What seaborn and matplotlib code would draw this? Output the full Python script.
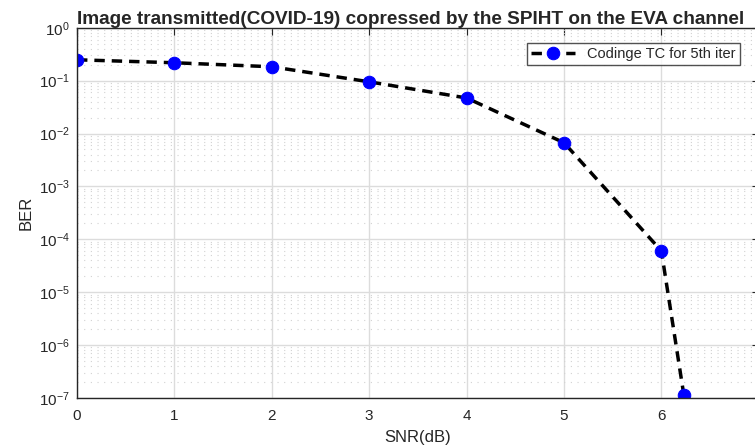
import numpy as np
import pandas as pd
import matplotlib
matplotlib.use("Agg")
import matplotlib.pyplot as plt
import seaborn as sns

# values
snr = [0, 1, 2, 3, 4, 5, 6, 6.23]
ber = [0.248, 0.218, 0.183, 0.095, 0.047, 0.0067, 6.0e-5, 1.15e-7]
label = "Codinge TC for 5th iter"

sns.set_style("white")
plt.rcParams['font.family'] = ['Liberation Sans', 'DejaVu Sans']
plt.rcParams['mathtext.fontset'] = 'custom'
plt.rcParams['mathtext.rm'] = 'Liberation Sans'

df = pd.DataFrame({"SNR": snr, "BER": ber})

fig = plt.figure(figsize=(7.55, 4.48), dpi=100)
ax = fig.add_axes([0.102, 0.112, 0.903, 0.826])

sns.lineplot(data=df, x="SNR", y="BER", ax=ax, color="black",
             linewidth=2.5, marker="o", markersize=9, markerfacecolor="blue",
             markeredgecolor="blue", label=label)
ax.lines[0].set_linestyle((0, (3, 2)))

ax.set_yscale("log")
ax.set_xlim(0, 7)
ax.set_ylim(1e-7, 1)
ax.set_xticks(range(0, 8))
ax.set_yticks([10.0 ** k for k in range(-7, 1)])
ax.yaxis.set_minor_locator(matplotlib.ticker.LogLocator(base=10, subs=np.arange(2, 10), numticks=20))
ax.yaxis.set_minor_formatter(matplotlib.ticker.NullFormatter())

ax.grid(True, which="major", color="#dcdcdc", linewidth=1, linestyle="-")
ax.grid(True, which="minor", axis="y", color="#d2d2d2", linewidth=0.8, linestyle=(0, (1, 5)))
ax.tick_params(which="both", direction="in", top=True, right=True, colors="#262626")
ax.tick_params(which="major", length=5, labelsize=11)
ax.tick_params(axis="x", which="major", pad=8)
ax.tick_params(axis="y", which="major", pad=5)
ax.tick_params(which="minor", length=3)
for s in ax.spines.values():
    s.set_color("#262626")
    s.set_linewidth(1)

ax.set_xlabel("SNR(dB)", fontsize=12, color="#262626", labelpad=5)
ax.set_ylabel("BER", fontsize=12, color="#262626", labelpad=4)
ax.set_title("Image transmitted(COVID-19) copressed by the SPIHT on the EVA channel",
             fontsize=13.7, fontweight="bold", pad=3, loc="left", x=0.0)

leg = ax.legend(loc="upper right", bbox_to_anchor=(0.972, 0.96), fontsize=10.5,
                frameon=True, fancybox=False, handlelength=3, borderpad=0.3,
                borderaxespad=0)
leg.get_frame().set_edgecolor("#262626")
leg.get_frame().set_linewidth(1)

fig.savefig("out.png", dpi=100)
